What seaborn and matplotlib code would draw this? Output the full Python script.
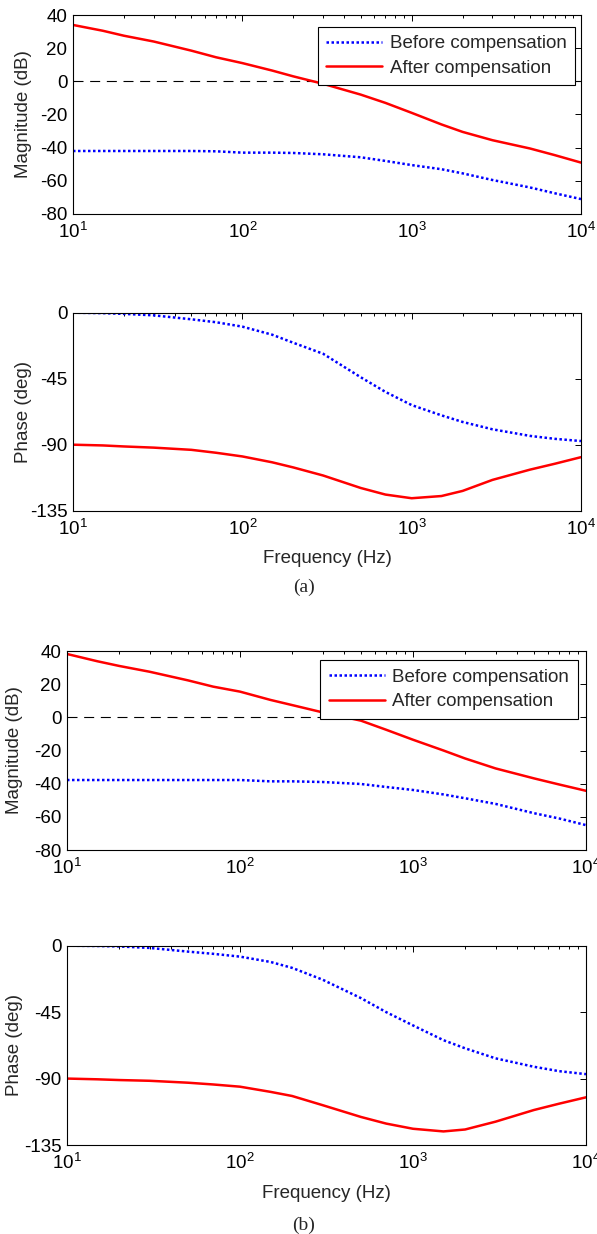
import numpy as np
import matplotlib
matplotlib.use('Agg')
import matplotlib.pyplot as plt
import seaborn as sns
from matplotlib.ticker import LogLocator, NullFormatter, FixedLocator

# frequency grid (Hz)
freq = [10, 15, 20, 30, 50, 70, 100, 150, 200, 300, 500, 700, 1000, 1500, 2000, 3000, 5000, 7000, 10000]

# (a) magnitude (dB)
mag_a_before = [-42, -42, -42, -42, -42, -42.2, -43, -43, -43.2, -44, -45.8, -48, -50.5, -53, -55.5, -59.5, -64, -67.5, -71]
mag_a_after = [34, 30.5, 27.5, 24, 18.5, 14.5, 11, 6.5, 3, -1.5, -8, -13, -19, -26, -30.5, -35.5, -40.5, -44.5, -49]
# (a) phase (deg)
ph_a_before = [0, -0.3, -0.8, -1.8, -4.5, -6.5, -9.5, -15, -20.5, -28, -44, -54, -63, -70, -74.5, -79.5, -84, -86, -87.5]
ph_a_after = [-90, -90.5, -91.2, -92, -93.5, -95.5, -98, -102, -105.5, -111, -119.5, -124, -126.5, -125, -121.5, -114, -107, -103, -98.5]

# (b) magnitude (dB)
mag_b_before = [-37.8, -37.8, -37.8, -37.8, -37.8, -37.8, -37.8, -38.6, -38.6, -39, -40.2, -42, -43.8, -46.5, -48.8, -52.2, -57.8, -61, -65]
mag_b_after = [38.2, 33.8, 31, 27.5, 22.3, 18.5, 15.5, 10.5, 7.4, 3, -2, -7.5, -13.5, -20, -24.8, -30.8, -36.8, -40.5, -44.3]
# (b) phase (deg)
ph_b_before = [0, -0.2, -0.5, -1.5, -4, -5.5, -7.4, -11, -15, -23, -35.5, -45, -54, -64, -69.5, -76.3, -82, -85, -87]
ph_b_after = [-90, -90.5, -91, -91.5, -92.8, -94, -95.5, -99, -101.8, -108, -116, -120.5, -124, -125.8, -124.5, -119.2, -111.3, -107, -102.7]

mag_ticks = [40, 20, 0, -20, -40, -60, -80]
ph_ticks = [0, -45, -90, -135]
labels = ['Before compensation', 'After compensation']

sns.set_style('white')
plt.rcParams['font.family'] = ['Liberation Sans', 'DejaVu Sans']
plt.rcParams['mathtext.fontset'] = 'custom'
plt.rcParams['mathtext.rm'] = 'Liberation Sans'
plt.rcParams['axes.unicode_minus'] = False
FS = 13.5

fig = plt.figure(figsize=(5.97, 12.34), dpi=100)

W, H = 597, 1234
def add_ax(l, r, t, b):
    return fig.add_axes([l / W, 1 - b / H, (r - l) / W, (b - t) / H])

ax1 = add_ax(73, 581, 15, 214)
ax2 = add_ax(73, 581, 312.7, 510.7)
ax3 = add_ax(67, 586, 651, 850)
ax4 = add_ax(67, 586, 945.7, 1145)

def style(ax, ylim, yticks, ylabel, lab_x):
    ax.set_xscale('log')
    ax.set_xlim(10, 10000)
    ax.set_ylim(*ylim)
    ax.set_yticks(yticks)
    ax.xaxis.set_major_locator(FixedLocator([10, 100, 1000, 10000]))
    ax.xaxis.set_minor_locator(LogLocator(base=10, subs=np.arange(2, 10), numticks=20))
    ax.xaxis.set_minor_formatter(NullFormatter())
    ax.tick_params(which='both', direction='in', top=True, right=True,
                   labelsize=FS, colors='black', width=0.7)
    ax.tick_params(which='major', length=4)
    ax.tick_params(which='minor', length=2.5)
    ax.tick_params(axis='x', which='major', pad=6)
    ax.tick_params(axis='y', which='major', pad=4)
    for s in ax.spines.values():
        s.set_color('black')
        s.set_linewidth(0.8)
    ax.set_ylabel(ylabel, fontsize=FS)
    ax.yaxis.set_label_coords(lab_x, 0.5)
    ax.set_xlabel('')

def draw(ax, before, after):
    sns.lineplot(x=freq, y=before, ax=ax, color='#0000ff', linewidth=1.8,
                 linestyle=(0, (1, 1.0)), label=labels[0])
    sns.lineplot(x=freq, y=after, ax=ax, color='#ff0000', linewidth=1.8,
                 label=labels[1])

for ax, b, a, lx in [(ax1, mag_a_before, mag_a_after, -0.081), (ax3, mag_b_before, mag_b_after, -0.085)]:
    ax.axhline(0, color='black', lw=0.8, dashes=(9, 6), zorder=1)
    draw(ax, b, a)
    style(ax, (-80, 40), mag_ticks, 'Magnitude (dB)', lx)

for ax, b, a, lx in [(ax2, ph_a_before, ph_a_after, -0.081), (ax4, ph_b_before, ph_b_after, -0.085)]:
    draw(ax, b, a)
    style(ax, (-135, 0), ph_ticks, 'Phase (deg)', lx)
    ax.get_legend().remove()
    ax.set_xlabel('Frequency (Hz)', fontsize=FS, labelpad=8)

for ax, anchor in [(ax1, (0.9888, 0.9412)), (ax3, (0.984, 0.955))]:
    leg = ax.legend(loc='upper right', bbox_to_anchor=anchor, borderaxespad=0,
                    fontsize=FS, frameon=True, fancybox=False, framealpha=1,
                    edgecolor='black', handlelength=3.0, handletextpad=0.4,
                    labelspacing=0.4, borderpad=0.45)
    leg.get_frame().set_linewidth(0.8)
    leg.set_zorder(5)

fig.text(304 / W, 1 - 587 / H, '(a)', ha='center', va='center', fontsize=14,
         family=['Liberation Serif', 'DejaVu Serif'])
fig.text(304 / W, 1 - 1225 / H, '(b)', ha='center', va='center', fontsize=14,
         family=['Liberation Serif', 'DejaVu Serif'])

fig.savefig('out.png', dpi=100, facecolor='white')
